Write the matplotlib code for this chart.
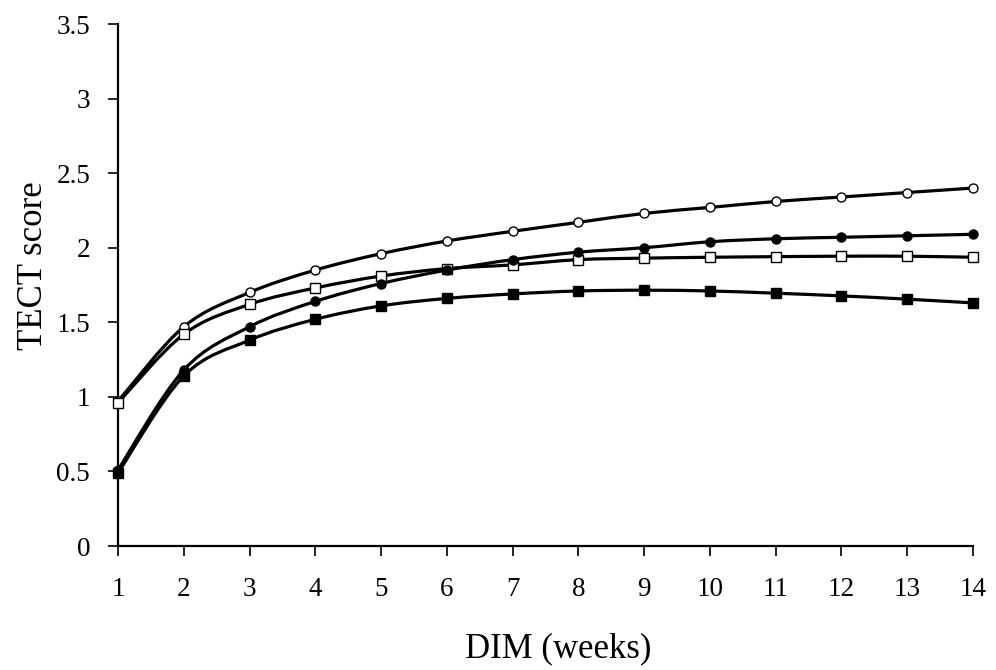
import numpy as np
import matplotlib
matplotlib.use("Agg")
import matplotlib.pyplot as plt
from matplotlib.path import Path
from matplotlib.patches import PathPatch

weeks = list(range(1, 15))
open_circle = [0.97, 1.47, 1.70, 1.85, 1.96, 2.045, 2.11, 2.17, 2.23, 2.27, 2.31, 2.34, 2.37, 2.40]
filled_circle = [0.51, 1.18, 1.47, 1.64, 1.76, 1.85, 1.92, 1.97, 2.00, 2.04, 2.06, 2.07, 2.08, 2.09]
open_square = [0.96, 1.42, 1.62, 1.73, 1.81, 1.86, 1.885, 1.92, 1.93, 1.936, 1.94, 1.943, 1.943, 1.936]
filled_square = [0.49, 1.14, 1.38, 1.52, 1.61, 1.66, 1.69, 1.71, 1.715, 1.71, 1.695, 1.677, 1.655, 1.63]

y_ticks = [0, 0.5, 1, 1.5, 2, 2.5, 3, 3.5]
y_tick_labels = ["0", "0.5", "1", "1.5", "2", "2.5", "3", "3.5"]

plt.rcParams['font.family'] = ['Liberation Serif', 'DejaVu Serif']

fig = plt.figure(figsize=(9.96, 6.70), dpi=100)
ax = fig.add_axes([118/996, 1-546/670, (973-118)/996, (546-24)/670])


def smooth_path(x, y):
    p = np.column_stack([x, y]).astype(float)
    n = len(p)
    verts = [p[0]]
    codes = [Path.MOVETO]
    for i in range(n - 1):
        p0 = p[i - 1] if i > 0 else p[i]
        p1 = p[i]
        p2 = p[i + 1]
        p3 = p[i + 2] if i + 2 < n else p[i + 1]
        c1 = p1 + (p2 - p0) / 6.0
        c2 = p2 - (p3 - p1) / 6.0
        verts += [c1, c2, p2]
        codes += [Path.CURVE4] * 3
    return Path(verts, codes)


series = [
    (open_circle, 'o', 'white', 6.5),
    (open_square, 's', 'white', 6.5),
    (filled_circle, 'o', 'black', 6.5),
    (filled_square, 's', 'black', 6.5),
]
for vals, mk, fc, ms in series:
    patch = PathPatch(smooth_path(weeks, vals), facecolor='none', edgecolor='black',
                      lw=2.3, zorder=2, clip_on=False)
    ax.add_patch(patch)
    ax.plot(weeks, vals, linestyle='none', marker=mk, markersize=ms,
            markerfacecolor=fc, markeredgecolor='black', markeredgewidth=1.0,
            zorder=3, clip_on=False)

ax.set_xlim(1, 14)
ax.set_ylim(0, 3.5)
ax.set_xticks(weeks)
ax.set_xticklabels([str(w) for w in weeks])
ax.set_yticks(y_ticks)
ax.set_yticklabels(y_tick_labels)

for s in ['top', 'right']:
    ax.spines[s].set_visible(False)
for s in ['left', 'bottom']:
    ax.spines[s].set_linewidth(1.6)

ax.tick_params(axis='both', direction='out', length=7, width=1.2, labelsize=19.5)
ax.tick_params(axis='x', pad=15)
ax.tick_params(axis='y', pad=13)

fig.text(558/996, 1-657/670, 'DIM (weeks)', fontsize=25, ha='center', va='baseline')
fig.text(42/996, 1-266/670, 'TECT score', fontsize=25, rotation=90,
         rotation_mode='anchor', ha='center', va='baseline')

fig.savefig('out.png', dpi=100)
